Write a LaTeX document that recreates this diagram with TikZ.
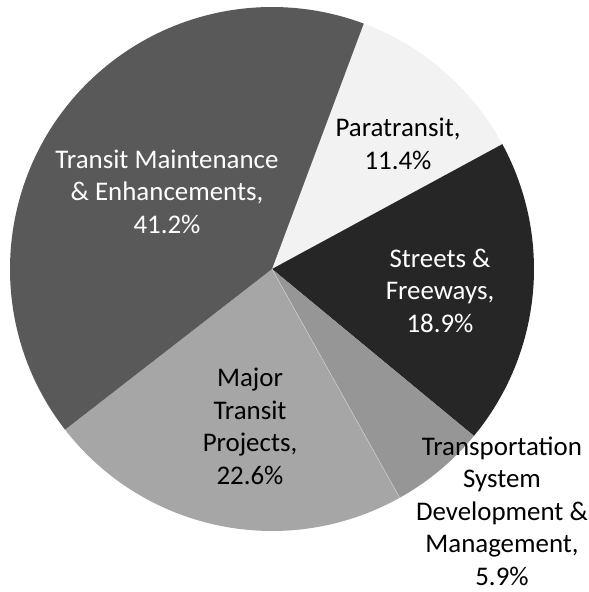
\documentclass[tikz,border=0pt]{standalone}
\usepackage{fontspec}
\setmainfont{Carlito}
\begin{document}
\begin{tikzpicture}[x=1pt,y=1pt,
  lbl/.style={align=center,inner sep=0pt,font=\fontsize{26.9}{32.5}\selectfont},
  wlbl/.style={lbl,text=white},
  blbl/.style={lbl,text=black}]
\definecolor{cTM}{HTML}{595959}
\definecolor{cPT}{HTML}{F2F2F2}
\definecolor{cSF}{HTML}{262626}
\definecolor{cTS}{HTML}{969696}
\definecolor{cMJ}{HTML}{A6A6A6}
\useasboundingbox (0,0) rectangle (589,592);
\coordinate (c) at (272,323);
\def\R{262}
% slices clockwise from 69.5 deg
\fill[cPT] (c) -- ++(69.5:\R) arc[start angle=69.5,end angle=28.46,radius=\R] -- cycle;
\fill[cSF] (c) -- ++(28.46:\R) arc[start angle=28.46,end angle=-39.58,radius=\R] -- cycle;
\fill[cTS] (c) -- ++(-39.58:\R) arc[start angle=-39.58,end angle=-60.82,radius=\R] -- cycle;
\fill[cMJ] (c) -- ++(-60.82:\R) arc[start angle=-60.82,end angle=-142.18,radius=\R] -- cycle;
\fill[cTM] (c) -- ++(-142.18:\R) arc[start angle=-142.18,end angle=-290.5,radius=\R] -- cycle;
\draw[white!45!cMJ,line width=0.5pt] (c) -- ++(-60.82:\R);
% labels
\node[wlbl] (tm) at (167,400.5) {Transit Maintenance\\\& Enhancements,\\41.2\%};
\node[blbl] (pt) at (398,448) {Paratransit,\\11.4\%};
\node[wlbl] (sf) at (440,301.5) {Streets \&\\Freeways,\\18.9\%};
\node[blbl] (mj) at (250,165.5) {Major\\Transit\\Projects,\\22.6\%};
\node[blbl] (ts) at (502,81) {Transportation\\System\\Development \&\\Management,\\5.9\%};
\end{tikzpicture}
\end{document}
